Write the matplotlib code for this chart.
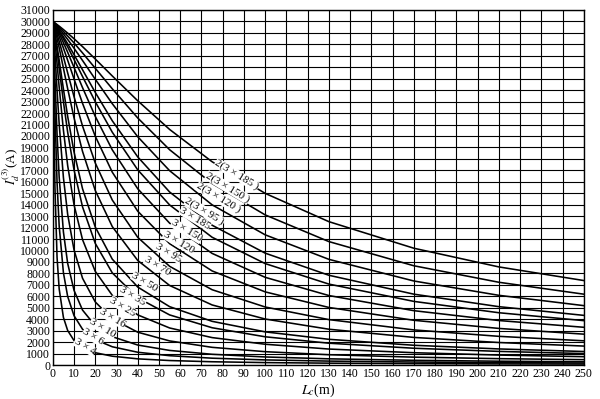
import matplotlib.pyplot as plt

plt.rcParams['font.family'] = ['Liberation Serif', 'DejaVu Serif']
plt.rcParams['mathtext.fontset'] = 'stix'

# cable length (m)
length_m = [0, 1, 2, 3, 5, 7, 10, 14, 20, 28, 40, 55, 75, 100, 130, 170, 210, 250]

# three-phase short-circuit current (A)
i_3x4 = [30000, 15600, 9420, 6650, 4160, 3020, 2140, 1540, 1080, 776, 544, 397, 291, 218, 168, 129, 104, 88]
i_3x6 = [30000, 22170, 15960, 12140, 8060, 5990, 4310, 3130, 2220, 1600, 1120, 820, 602, 452, 348, 267, 216, 181]
i_3x10 = [30000, 25100, 20180, 16410, 11620, 8880, 6520, 4800, 3430, 2480, 1750, 1280, 943, 709, 546, 418, 339, 285]
i_3x16 = [30000, 27210, 24020, 21050, 16370, 13160, 10050, 7580, 5510, 4030, 2870, 2110, 1550, 1170, 904, 693, 561, 472]
i_3x25 = [30000, 28300, 26320, 24270, 20500, 17420, 13990, 10950, 8180, 6090, 4380, 3240, 2400, 1820, 1400, 1080, 874, 735]
i_3x35 = [30000, 28800, 27420, 25940, 22990, 20330, 17040, 13810, 10620, 8050, 5870, 4380, 3260, 2470, 1910, 1470, 1195, 1006]
i_3x50 = [30000, 29000, 27850, 26620, 24100, 21710, 18600, 15390, 12050, 9250, 6810, 5100, 3820, 2900, 2250, 1730, 1410, 1185]
i_3x70 = [30000, 29310, 28530, 27690, 25920, 24130, 21580, 18650, 15240, 12090, 9130, 6950, 5250, 4020, 3130, 2415, 1970, 1660]
i_3x95 = [30000, 29470, 28880, 28260, 26910, 25510, 23430, 20870, 17640, 14410, 11150, 8620, 6580, 5070, 3970, 3070, 2510, 2120]
i_3x120 = [30000, 29590, 29150, 28680, 27670, 26610, 24980, 22850, 19980, 16840, 13430, 10600, 8220, 6390, 5030, 3910, 3200, 2700]
i_3x150 = [30000, 29670, 29320, 28950, 28150, 27310, 25990, 24220, 21710, 18790, 15390, 12390, 9750, 7660, 6070, 4750, 3890, 3300]
i_3x185 = [30000, 29720, 29430, 29130, 28470, 27780, 26680, 25190, 22990, 20330, 17040, 13980, 11160, 8860, 7070, 5560, 4570, 3880]
i_2x95 = [30000, 29760, 29500, 29230, 28660, 28050, 27100, 25780, 23800, 21330, 18170, 15110, 12210, 9770, 7840, 6190, 5100, 4340]
i_2x120 = [30000, 29800, 29590, 29370, 28910, 28430, 27660, 26590, 24950, 22820, 19930, 16970, 13990, 11370, 9230, 7340, 6090, 5190]
i_2x150 = [30000, 29840, 29670, 29490, 29120, 28730, 28120, 27250, 25910, 24120, 21570, 18800, 15850, 13110, 10780, 8670, 7230, 6190]
i_2x185 = [30000, 29870, 29730, 29590, 29290, 28980, 28490, 27800, 26720, 25240, 23070, 20570, 17750, 14990, 12520, 10200, 8570, 7380]

curves = [i_3x4, i_3x6, i_3x10, i_3x16, i_3x25, i_3x35, i_3x50, i_3x70,
          i_3x95, i_3x120, i_3x150, i_3x185, i_2x95, i_2x120, i_2x150, i_2x185]
names = ['3 × 4', '3 × 6', '3 × 10', '3 × 16', '3 × 25', '3 × 35', '3 × 50', '3 × 70',
         '3 × 95', '3 × 120', '3 × 150', '3 × 185',
         '2(3 × 95 )', '2(3 × 120 )', '2(3 × 150 )', '2(3 × 185 )']
# where each name sits on the chart (m, A)
label_x = [15, 19, 23.5, 28.2, 33, 37.7, 43.3, 49.4, 54.6, 59.3, 63, 67, 71.5, 78, 82.4, 86.6]
label_y = [1600, 2450, 3200, 4100, 5100, 6000, 7250, 8650, 9800, 10700, 11700, 12800, 13400, 14600, 15500, 16600]

fig = plt.figure(figsize=(6, 3.99), dpi=100)
ax = fig.add_axes([0.088, 0.085, 0.885, 0.89])

for c in curves:
    ax.plot(length_m, c, color='black', lw=1.15)

for n, lx, ly in zip(names, label_x, label_y):
    ax.text(lx, ly, n, fontsize=8, rotation=-31, ha='center', va='center',
            bbox=dict(facecolor='white', edgecolor='none', pad=0.2), zorder=5)

ax.set_xlim(0, 250)
ax.set_ylim(0, 31000)
ax.set_xticks(range(0, 251, 10))
ax.set_yticks(range(0, 31001, 1000))
ax.tick_params(length=0, labelsize=8.5, pad=2)
ax.grid(True, color='black', lw=0.8)
ax.set_axisbelow(True)
for s in ax.spines.values():
    s.set_linewidth(1.0)

ax.set_xlabel('$L_c$(m)', fontsize=10, labelpad=1)
ax.set_ylabel('$I_d^{(3)}$(A)', fontsize=9.5)
ax.yaxis.set_label_coords(-0.058, 0.56)

fig.savefig('out.png', dpi=100)
